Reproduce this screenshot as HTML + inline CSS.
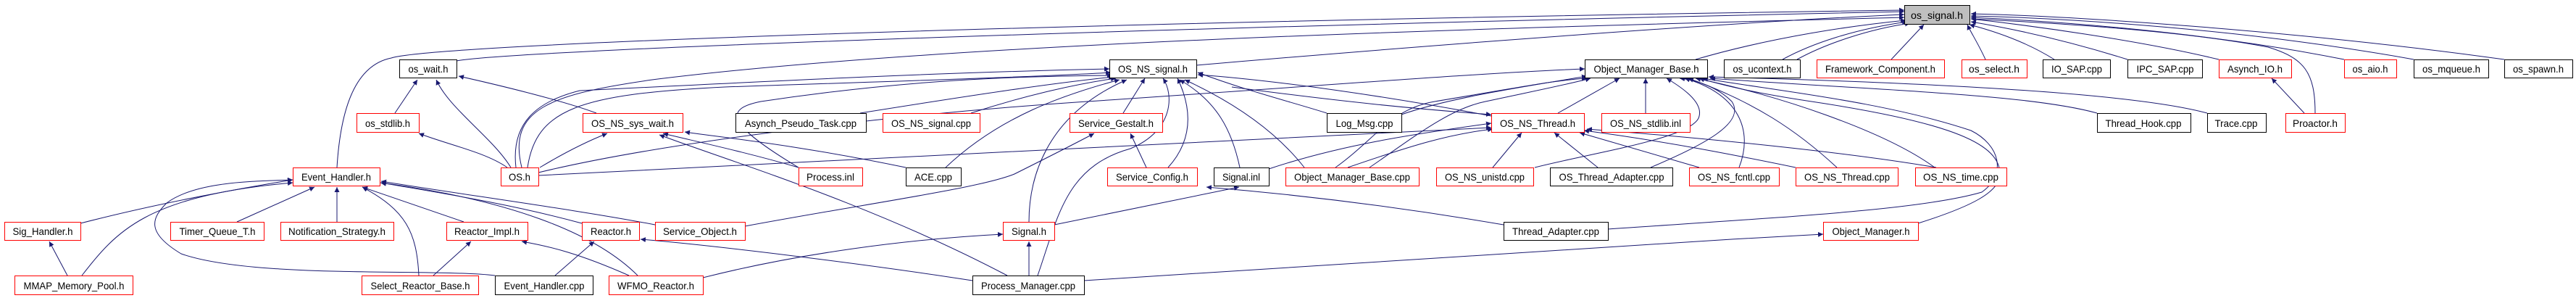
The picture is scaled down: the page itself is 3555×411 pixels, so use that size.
<!DOCTYPE html>
<html><head><meta charset="utf-8"><style>
html,body{margin:0;padding:0;background:#fff;width:3555px;height:411px;overflow:hidden}
svg text{font-family:"Liberation Sans",sans-serif;font-size:14px;fill:#000}
</style></head><body>
<svg width="3555" height="411" xmlns="http://www.w3.org/2000/svg">
<defs><marker id="a" viewBox="0 0 10 10" refX="10" refY="5" markerWidth="7" markerHeight="7" orient="auto" markerUnits="userSpaceOnUse"><path d="M0,0L10,5L0,10z" fill="#191970"/></marker></defs>
<g fill="none" stroke="#191970" stroke-width="1" marker-end="url(#a)">
<path d="M630,84 C700,70 1500,40 2628,16"/>
<path d="M465,231 C470,150 490,90 540,80 C600,60 1500,30 2628,14"/>
<path d="M1651,90 C2000,60 2400,30 2628,20"/>
<path d="M2340,82 C2450,50 2560,35 2630,28"/>
<path d="M2460,82 C2500,60 2560,40 2632,30"/>
<path d="M2480,82 C2520,60 2580,40 2636,32"/>
<path d="M2610,82 L2655,34"/>
<path d="M720,231 C700,150 760,130 900,110 C1300,60 2000,40 2628,24"/>
<path d="M2740,82 C2730,60 2720,45 2715,34"/>
<path d="M2835,82 C2800,60 2760,45 2718,34"/>
<path d="M2936,82 C2850,55 2780,40 2720,30"/>
<path d="M3062,82 C2950,55 2800,35 2720,26"/>
<path d="M3235,82 C3050,45 2850,30 2720,24"/>
<path d="M3331,82 C3100,40 2850,25 2720,22"/>
<path d="M3456,82 C3150,40 2850,22 2720,19"/>
<path d="M3195,156 C3195,100 3180,80 3130,65 C3000,40 2800,30 2720,26"/>
<path d="M705,231 C680,190 620,150 602,110"/>
<path d="M545,156 L576,110"/>
<path d="M823,156 C780,140 700,120 633,105"/>
<path d="M700,231 C670,210 620,200 578,184"/>
<path d="M745,231 C780,210 810,195 838,184"/>
<path d="M1102,231 C1030,210 960,195 915,184"/>
<path d="M1250,231 C1100,200 1000,190 945,182"/>
<path d="M1390,380 C1200,280 1000,220 910,186"/>
<path d="M743,242 C1200,220 1700,190 2058,176"/>
<path d="M712,231 C705,170 740,140 800,125 C1100,110 1300,100 1531,95"/>
<path d="M728,231 C740,150 800,130 1000,120 C1300,110 1450,105 1533,100"/>
<path d="M1102,231 C1000,170 1000,150 1050,140 C1250,110 1400,105 1535,104"/>
<path d="M1187,156 C1350,130 1450,115 1537,106"/>
<path d="M1340,156 C1420,130 1490,115 1540,108"/>
<path d="M1305,231 C1380,160 1470,130 1545,110"/>
<path d="M1420,306 C1420,250 1440,160 1555,110"/>
<path d="M1550,156 L1580,108"/>
<path d="M1432,380 C1460,300 1470,230 1560,205 C1620,180 1620,130 1605,108"/>
<path d="M1612,231 C1640,200 1650,160 1625,108"/>
<path d="M1711,231 C1700,180 1680,140 1628,110"/>
<path d="M1800,231 C1760,180 1700,140 1635,110"/>
<path d="M2058,160 C1900,130 1750,110 1653,103"/>
<path d="M1831,156 C1780,140 1720,125 1653,100"/>
<path d="M743,238 C900,200 1200,160 1500,140 C1800,120 2050,100 2187,95"/>
<path d="M1843,231 C1900,190 1920,150 1980,140 C2100,120 2150,110 2190,108"/>
<path d="M1890,231 C1950,190 2000,150 2050,140 C2120,125 2170,115 2195,108"/>
<path d="M1934,158 C2000,135 2100,120 2190,105"/>
<path d="M2150,156 L2235,108"/>
<path d="M2271,156 L2271,108"/>
<path d="M2118,231 C2200,210 2340,190 2345,160 C2350,140 2320,120 2300,108"/>
<path d="M2278,231 C2350,200 2410,170 2390,140 C2370,120 2340,110 2318,108"/>
<path d="M2400,231 C2420,180 2400,130 2325,108"/>
<path d="M2535,231 C2480,180 2420,140 2330,108"/>
<path d="M2670,231 C2600,180 2450,130 2340,108"/>
<path d="M2894,156 C2800,130 2600,125 2360,108"/>
<path d="M3046,156 C2950,130 2700,115 2358,106"/>
<path d="M2647,308 C2720,285 2760,265 2760,240 C2760,200 2700,170 2500,140 C2420,128 2380,118 2345,108"/>
<path d="M2219,316 C2450,300 2650,290 2735,265 C2770,240 2760,200 2720,180 C2600,140 2450,125 2350,108"/>
<path d="M1751,233 C1850,200 1950,185 2058,170"/>
<path d="M1860,231 C1950,200 2000,185 2060,178"/>
<path d="M2060,231 L2100,183"/>
<path d="M2205,231 L2145,183"/>
<path d="M2345,231 L2180,183"/>
<path d="M2478,231 C2400,215 2300,195 2186,180"/>
<path d="M2672,231 C2550,210 2350,190 2190,178"/>
<path d="M1700,120 C1850,140 1950,150 2058,158"/>
<path d="M111,308 C200,285 300,265 404,248"/>
<path d="M327,306 L434,258"/>
<path d="M465,306 L465,258"/>
<path d="M640,306 L500,258"/>
<path d="M803,308 C700,280 600,265 526,252"/>
<path d="M904,310 C800,290 650,270 526,250"/>
<path d="M113,380 C160,320 200,270 404,252"/>
<path d="M578,380 C575,320 560,290 500,258"/>
<path d="M880,380 C820,320 700,275 525,252"/>
<path d="M683,380 C600,370 350,385 250,350 C200,320 210,300 230,280 C270,250 350,250 404,248"/>
<path d="M93,380 L68,333"/>
<path d="M598,380 L650,333"/>
<path d="M868,380 C800,350 760,340 720,333"/>
<path d="M766,380 L820,333"/>
<path d="M1342,387 C1200,365 1000,340 884,330"/>
<path d="M970,383 C1100,350 1250,330 1384,323"/>
<path d="M1420,380 L1420,333"/>
<path d="M1455,310 L1710,258"/>
<path d="M1496,387 C1900,360 2200,340 2516,323"/>
<path d="M1582,231 L1560,184"/>
<path d="M1028,312 C1200,280 1350,260 1400,240 C1450,215 1480,200 1510,184"/>
<path d="M2075,310 C1900,280 1750,265 1665,258"/>
<path d="M3180,156 L3135,108"/>
</g>
<g stroke-width="1">
<rect x="2628.5" y="7.5" width="90" height="26" fill="#bfbfbf" stroke="#000"/>
<g fill="#fff">
<rect x="551.5" y="82.5" width="79" height="25" stroke="#000"/>
<rect x="1531.5" y="82.5" width="120" height="25" stroke="#000"/>
<rect x="2187.5" y="82.5" width="169" height="25" stroke="#000"/>
<rect x="2379.5" y="82.5" width="105" height="25" stroke="#000"/>
<rect x="2507.5" y="82.5" width="176" height="25" stroke="red"/>
<rect x="2707.5" y="82.5" width="90" height="25" stroke="red"/>
<rect x="2819.5" y="82.5" width="93" height="25" stroke="#000"/>
<rect x="2936.5" y="82.5" width="103" height="25" stroke="#000"/>
<rect x="3062.5" y="82.5" width="100" height="25" stroke="red"/>
<rect x="3235.5" y="82.5" width="72" height="25" stroke="red"/>
<rect x="3331.5" y="82.5" width="103" height="25" stroke="#000"/>
<rect x="3456.5" y="82.5" width="94" height="25" stroke="#000"/>
<rect x="492.5" y="156.5" width="86" height="26" stroke="red"/>
<rect x="804.5" y="156.5" width="138" height="26" stroke="red"/>
<rect x="1015.5" y="156.5" width="180" height="26" stroke="#000"/>
<rect x="1218.5" y="156.5" width="134" height="26" stroke="red"/>
<rect x="1476.5" y="156.5" width="128" height="26" stroke="red"/>
<rect x="1831.5" y="156.5" width="103" height="26" stroke="#000"/>
<rect x="2058.5" y="156.5" width="128" height="26" stroke="red"/>
<rect x="2210.5" y="156.5" width="122" height="26" stroke="red"/>
<rect x="2894.5" y="156.5" width="129" height="26" stroke="#000"/>
<rect x="3046.5" y="156.5" width="81" height="26" stroke="#000"/>
<rect x="3154.5" y="156.5" width="82" height="26" stroke="red"/>
<rect x="404.5" y="231.5" width="120" height="25" stroke="red"/>
<rect x="691.5" y="231.5" width="52" height="25" stroke="red"/>
<rect x="1102.5" y="231.5" width="88" height="25" stroke="red"/>
<rect x="1250.5" y="231.5" width="76" height="25" stroke="#000"/>
<rect x="1528.5" y="231.5" width="124" height="25" stroke="red"/>
<rect x="1675.5" y="231.5" width="76" height="25" stroke="#000"/>
<rect x="1774.5" y="231.5" width="184" height="25" stroke="red"/>
<rect x="1982.5" y="231.5" width="134" height="25" stroke="red"/>
<rect x="2139.5" y="231.5" width="169" height="25" stroke="#000"/>
<rect x="2331.5" y="231.5" width="124" height="25" stroke="red"/>
<rect x="2478.5" y="231.5" width="141" height="25" stroke="red"/>
<rect x="2643.5" y="231.5" width="126" height="25" stroke="red"/>
<rect x="6.5" y="306.5" width="105" height="25" stroke="red"/>
<rect x="235.5" y="306.5" width="129" height="25" stroke="red"/>
<rect x="387.5" y="306.5" width="156" height="25" stroke="red"/>
<rect x="616.5" y="306.5" width="112" height="25" stroke="red"/>
<rect x="803.5" y="306.5" width="79" height="25" stroke="red"/>
<rect x="904.5" y="306.5" width="124" height="25" stroke="red"/>
<rect x="1384.5" y="306.5" width="71" height="25" stroke="red"/>
<rect x="2075.5" y="306.5" width="144" height="25" stroke="#000"/>
<rect x="2516.5" y="306.5" width="131" height="25" stroke="red"/>
<rect x="20.5" y="380.5" width="163" height="26" stroke="red"/>
<rect x="499.5" y="380.5" width="161" height="26" stroke="red"/>
<rect x="683.5" y="380.5" width="135" height="26" stroke="#000"/>
<rect x="840.5" y="380.5" width="130" height="26" stroke="red"/>
<rect x="1342.5" y="380.5" width="154" height="26" stroke="#000"/>
</g></g>
<g text-anchor="middle" lengthAdjust="spacingAndGlyphs">
<text x="2673" y="26" textLength="72" lengthAdjust="spacingAndGlyphs">os_signal.h</text>
<text x="591" y="100" textLength="55" lengthAdjust="spacingAndGlyphs">os_wait.h</text>
<text x="1591" y="100" textLength="96" lengthAdjust="spacingAndGlyphs">OS_NS_signal.h</text>
<text x="2272" y="100" textLength="145" lengthAdjust="spacingAndGlyphs">Object_Manager_Base.h</text>
<text x="2432" y="100" textLength="81" lengthAdjust="spacingAndGlyphs">os_ucontext.h</text>
<text x="2595" y="100" textLength="152" lengthAdjust="spacingAndGlyphs">Framework_Component.h</text>
<text x="2752" y="100" textLength="70" lengthAdjust="spacingAndGlyphs">os_select.h</text>
<text x="2866" y="100" textLength="70" lengthAdjust="spacingAndGlyphs">IO_SAP.cpp</text>
<text x="2988" y="100" textLength="79" lengthAdjust="spacingAndGlyphs">IPC_SAP.cpp</text>
<text x="3112" y="100" textLength="76" lengthAdjust="spacingAndGlyphs">Asynch_IO.h</text>
<text x="3271" y="100" textLength="49" lengthAdjust="spacingAndGlyphs">os_aio.h</text>
<text x="3383" y="100" textLength="80" lengthAdjust="spacingAndGlyphs">os_mqueue.h</text>
<text x="3503" y="100" textLength="70" lengthAdjust="spacingAndGlyphs">os_spawn.h</text>
<text x="535" y="175" textLength="62" lengthAdjust="spacingAndGlyphs">os_stdlib.h</text>
<text x="873" y="175" textLength="114" lengthAdjust="spacingAndGlyphs">OS_NS_sys_wait.h</text>
<text x="1105" y="175" textLength="154" lengthAdjust="spacingAndGlyphs">Asynch_Pseudo_Task.cpp</text>
<text x="1285" y="175" textLength="110" lengthAdjust="spacingAndGlyphs">OS_NS_signal.cpp</text>
<text x="1540" y="175" textLength="104" lengthAdjust="spacingAndGlyphs">Service_Gestalt.h</text>
<text x="1883" y="175" textLength="79" lengthAdjust="spacingAndGlyphs">Log_Msg.cpp</text>
<text x="2122" y="175" textLength="104" lengthAdjust="spacingAndGlyphs">OS_NS_Thread.h</text>
<text x="2271" y="175" textLength="98" lengthAdjust="spacingAndGlyphs">OS_NS_stdlib.inl</text>
<text x="2958" y="175" textLength="105" lengthAdjust="spacingAndGlyphs">Thread_Hook.cpp</text>
<text x="3086" y="175" textLength="59" lengthAdjust="spacingAndGlyphs">Trace.cpp</text>
<text x="3195" y="175" textLength="62" lengthAdjust="spacingAndGlyphs">Proactor.h</text>
<text x="464" y="249" textLength="96" lengthAdjust="spacingAndGlyphs">Event_Handler.h</text>
<text x="717" y="249" textLength="30" lengthAdjust="spacingAndGlyphs">OS.h</text>
<text x="1146" y="249" textLength="66" lengthAdjust="spacingAndGlyphs">Process.inl</text>
<text x="1288" y="249" textLength="52" lengthAdjust="spacingAndGlyphs">ACE.cpp</text>
<text x="1590" y="249" textLength="100" lengthAdjust="spacingAndGlyphs">Service_Config.h</text>
<text x="1713" y="249" textLength="52" lengthAdjust="spacingAndGlyphs">Signal.inl</text>
<text x="1866" y="249" textLength="160" lengthAdjust="spacingAndGlyphs">Object_Manager_Base.cpp</text>
<text x="2049" y="249" textLength="110" lengthAdjust="spacingAndGlyphs">OS_NS_unistd.cpp</text>
<text x="2224" y="249" textLength="145" lengthAdjust="spacingAndGlyphs">OS_Thread_Adapter.cpp</text>
<text x="2393" y="249" textLength="100" lengthAdjust="spacingAndGlyphs">OS_NS_fcntl.cpp</text>
<text x="2549" y="249" textLength="118" lengthAdjust="spacingAndGlyphs">OS_NS_Thread.cpp</text>
<text x="2706" y="249" textLength="104" lengthAdjust="spacingAndGlyphs">OS_NS_time.cpp</text>
<text x="59" y="324" textLength="83" lengthAdjust="spacingAndGlyphs">Sig_Handler.h</text>
<text x="300" y="324" textLength="105" lengthAdjust="spacingAndGlyphs">Timer_Queue_T.h</text>
<text x="465" y="324" textLength="134" lengthAdjust="spacingAndGlyphs">Notification_Strategy.h</text>
<text x="672" y="324" textLength="90" lengthAdjust="spacingAndGlyphs">Reactor_Impl.h</text>
<text x="843" y="324" textLength="56" lengthAdjust="spacingAndGlyphs">Reactor.h</text>
<text x="966" y="324" textLength="102" lengthAdjust="spacingAndGlyphs">Service_Object.h</text>
<text x="1420" y="324" textLength="48" lengthAdjust="spacingAndGlyphs">Signal.h</text>
<text x="2147" y="324" textLength="120" lengthAdjust="spacingAndGlyphs">Thread_Adapter.cpp</text>
<text x="2582" y="324" textLength="107" lengthAdjust="spacingAndGlyphs">Object_Manager.h</text>
<text x="102" y="399" textLength="139" lengthAdjust="spacingAndGlyphs">MMAP_Memory_Pool.h</text>
<text x="580" y="399" textLength="137" lengthAdjust="spacingAndGlyphs">Select_Reactor_Base.h</text>
<text x="751" y="399" textLength="111" lengthAdjust="spacingAndGlyphs">Event_Handler.cpp</text>
<text x="905" y="399" textLength="106" lengthAdjust="spacingAndGlyphs">WFMO_Reactor.h</text>
<text x="1419" y="399" textLength="130" lengthAdjust="spacingAndGlyphs">Process_Manager.cpp</text>
</g>
</svg>
</body></html>
